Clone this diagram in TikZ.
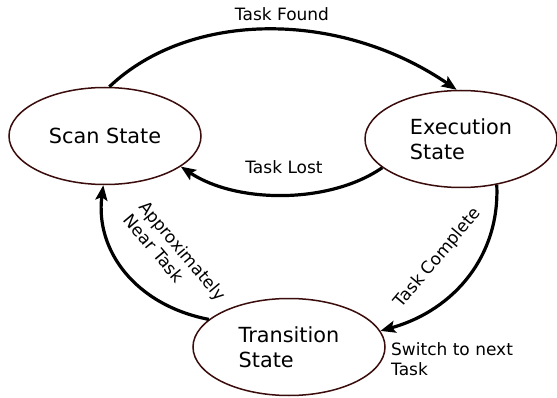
\documentclass[tikz,border=0pt]{standalone}
\usepackage{fontspec}
\setmainfont{DejaVu Sans}
\usetikzlibrary{
  arrows.meta,
  shapes.geometric
}
\definecolor{rim}{HTML}{3A0C0C}
\tikzset{
%
  % For the states.
  state/.style={
    ellipse,
    draw=rim,
    line width=1.5pt,
    minimum width=192pt,
    minimum height=97pt,
    inner sep=0pt,
    align=left,
    font=\fontsize{20.8}{25.5}\selectfont},
%
  % For the transitions.
  move/.style={
    line width=3.2pt,
    -{Stealth[length=15pt,
              width=12pt,
              inset=3pt]}},
%
  % For the texts on the transitions.
  tag/.style={
    inner sep=0pt,
    align=left,
    font=\fontsize{17}{20.5}\selectfont}
}

\begin{document}
\begin{tikzpicture}[x=1pt, y=-1pt]
  \useasboundingbox (0,0) rectangle (557,398);

  \node[state] (scan) at (105,136) {Scan State};
  \node[state] (exec) at (461,139) {Execution\\State};
  \node[state] (trans) at (289,347) {Transition\\State};

  \draw[move] (scan.85) .. controls (190,10) and (340,10) .. (exec.95);
  \draw[move] (exec.200) .. controls (330,204) and (237,204) .. (scan.338);
  \draw[move] (exec.308) .. controls (500,255) and (455,310) .. (trans.10);
  \draw[move] (trans.161) .. controls (135,305) and (95,250) .. (scan.268);

  \node[tag] (found) at (282,14) {Task Found};
  \node[tag] (lost) at (284,167) {Task Lost};
  \node[tag, rotate=50] (complete) at (438,258) {Task Complete};
  \node[tag, rotate=-50] (near) at (175,257) {Approximately\\Near Task};
  \node[tag, anchor=north west] (switch) at (391,342) {Switch to next\\Task};
\end{tikzpicture}
\end{document}
